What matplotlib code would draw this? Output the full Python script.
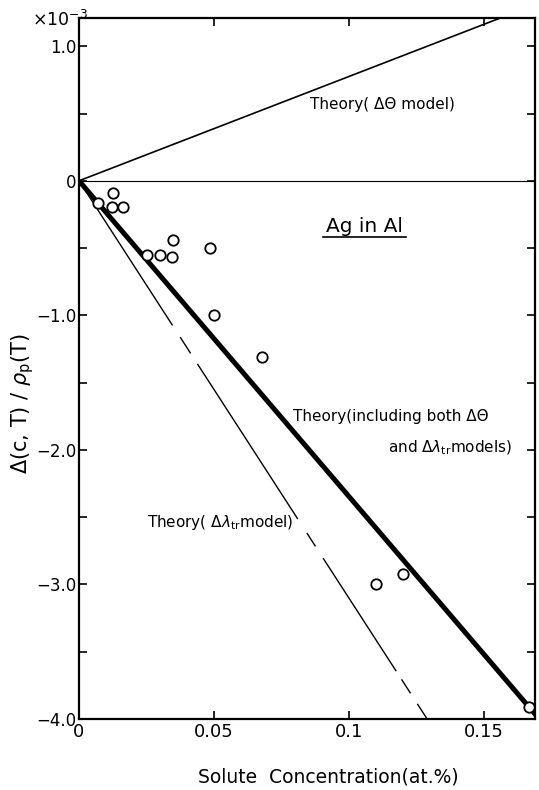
import matplotlib
matplotlib.use("Agg")
import matplotlib.pyplot as plt
from matplotlib.lines import Line2D
import numpy as np

plt.rcParams['font.family'] = ['DejaVu Sans']
plt.rcParams['lines.scale_dashes'] = False
plt.rcParams['mathtext.fontset'] = 'dejavusans'

# ---- data ----
conc = [0.0069, 0.0127, 0.0123, 0.0162, 0.0251, 0.0302, 0.0344, 0.0347,
        0.0484, 0.0501, 0.0680, 0.1099, 0.1200, 0.1668]
delta = [-0.166, -0.094, -0.196, -0.191, -0.553, -0.553, -0.570, -0.439,
         -0.503, -0.996, -1.310, -3.000, -2.920, -3.910]

slope_dtheta = 7.75      # Theory (Δθ model), ×10^-3 per at.%
slope_dlambda = -31.0    # Theory (Δλ_tr model)
slope_both = -23.45      # Theory (both models)
x_line = np.array([0.0, 0.17])

x_ticks = [0, 0.05, 0.1, 0.15]
x_tick_labels = ['0', '0.05', '0.1', '0.15']
y_ticks = [-4.0, -3.5, -3.0, -2.5, -2.0, -1.5, -1.0, -0.5, 0.0, 0.5, 1.0]
y_tick_labels = ['\u22124.0', '', '\u22123.0', '', '\u22122.0', '', '\u22121.0', '',
                 '0', '', '1.0']

W, H = 539, 790
fig = plt.figure(figsize=(W / 100, H / 100), dpi=100)
ax = fig.add_axes([79 / W, 1 - 719 / H, (535 - 79) / W, (719 - 18) / H])

ax.set_xlim(0, 0.169)
ax.set_ylim(-4.0, 1.21)

# zero line
ax.axhline(0, color='black', lw=0.8, zorder=1)

# theory lines
ax.plot(x_line, slope_dtheta * x_line, color='black', lw=1.2, zorder=2)
ax.plot(x_line, slope_dlambda * x_line, color='black', lw=1.0, zorder=2,
        dashes=[124, 10, 14, 9, 133, 12, 11.5, 10, 97, 7, 12, 9, 40, 10])
ax.plot(x_line, slope_both * x_line, color='black', lw=3.6, zorder=2,
        solid_capstyle='butt')

# data points
ax.plot(conc, delta, linestyle='none', marker='o', markersize=7.5,
        markerfacecolor='white', markeredgecolor='black', markeredgewidth=1.3,
        zorder=4, clip_on=False)

# ticks
ax.set_xticks(x_ticks)
ax.set_xticklabels(x_tick_labels)
ax.set_yticks(y_ticks)
ax.set_yticklabels(y_tick_labels)
ax.tick_params(direction='in', length=6, width=1.2, top=True, right=True)
ax.tick_params(axis='x', labelsize=13, pad=3)
ax.tick_params(axis='y', labelsize=12, pad=2)
for s in ax.spines.values():
    s.set_linewidth(1.6)

# annotations
fig.text(310 / W, 1 - 105 / H, 'Theory( \u0394\u0398 model)', fontsize=11,
         ha='left', va='center')
t_ag = fig.text(326 / W, 1 - 226 / H, 'Ag in Al', fontsize=14.5, ha='left', va='center')
fig.text(293 / W, 1 - 416 / H, 'Theory(including both \u0394\u0398', fontsize=11,
         ha='left', va='center')
fig.text(388 / W, 1 - 448 / H, r'and $\Delta\lambda_{\rm tr}$models)', fontsize=11,
         ha='left', va='center')
fig.text(147 / W, 1 - 523 / H, r'Theory( $\Delta\lambda_{\rm tr}$model)', fontsize=11,
         ha='left', va='center')

fig.text(328 / W, 1 - 777 / H, 'Solute  Concentration(at.%)', fontsize=13.5,
         ha='center', va='center')
fig.text(23 / W, 1 - 404 / H, r'$\Delta$(c, T) / $\rho_{\rm p}$(T)', fontsize=15,
         rotation=90, ha='center', va='center')
fig.text(32 / W, 1 - 20 / H, r'$\times 10^{-3}$', fontsize=12.5, ha='left', va='center')

# underline for "Ag in Al"
fig.canvas.draw()
bb = t_ag.get_window_extent().transformed(fig.transFigure.inverted())
uy = bb.y0 - 1.0 / H
fig.add_artist(Line2D([bb.x0 - 3 / W, bb.x1 + 3 / W], [uy, uy], color='black', lw=1.2,
                      transform=fig.transFigure))

fig.savefig('out.png', dpi=100)
